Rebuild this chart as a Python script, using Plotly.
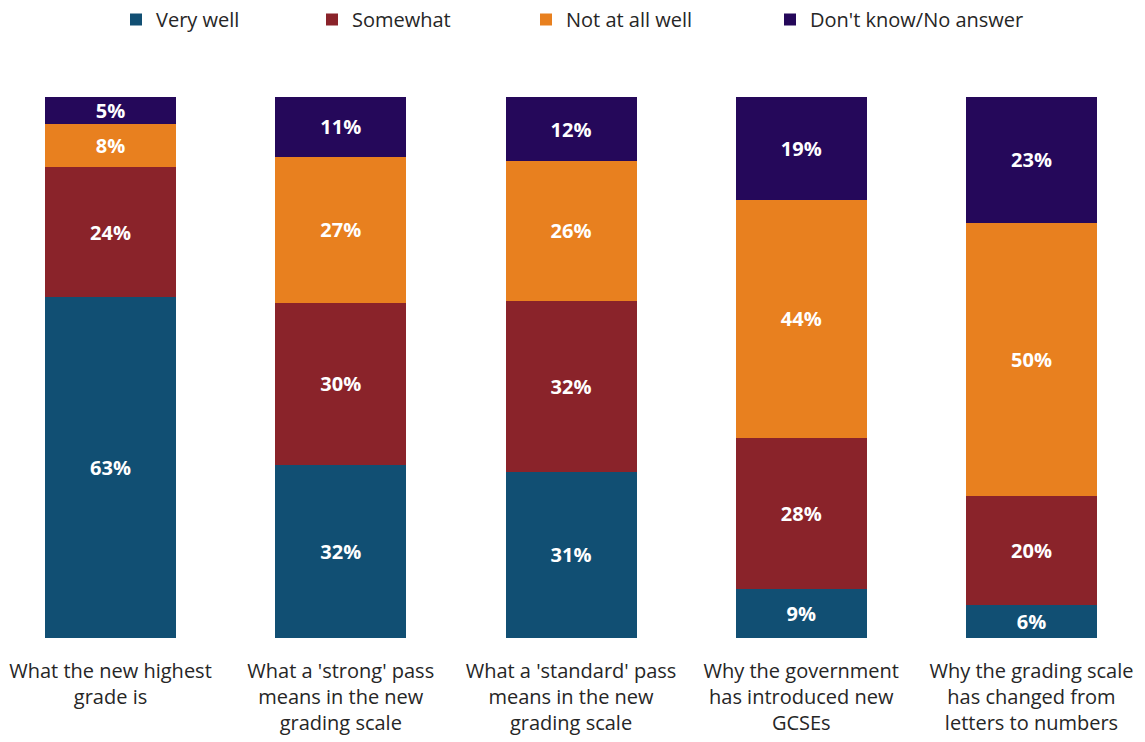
import plotly.graph_objects as go

categories = [
    "What the new highest<br>grade is",
    "What a 'strong' pass<br>means in the new<br>grading scale",
    "What a 'standard' pass<br>means in the new<br>grading scale",
    "Why the government<br>has introduced new<br>GCSEs",
    "Why the grading scale<br>has changed from<br>letters to numbers",
]
very_well = [63, 32, 31, 9, 6]
somewhat = [24, 30, 32, 28, 20]
not_at_all = [8, 27, 26, 44, 50]
dont_know = [5, 11, 12, 19, 23]

series = [
    ("Very well", very_well, "#114F73", "legend", 116),
    ("Somewhat", somewhat, "#8A232A", "legend2", 312),
    ("Not at all well", not_at_all, "#E8801F", "legend3", 526),
    ("Don't know/No answer", dont_know, "#25085A", "legend4", 770),
]

font_family = "Segoe UI, Open Sans, Noto Sans, sans-serif"
fig = go.Figure()
legends = {}
for name, vals, color, lg, xpx in series:
    fig.add_trace(go.Bar(
        name=name, x=categories, y=vals, marker=dict(color=color, line=dict(width=0)),
        text=[f"{v}%" for v in vals], textposition="inside", insidetextanchor="middle",
        constraintext="none",
        textfont=dict(family=font_family, size=20, color="white", weight="bold"),
        width=0.569, hoverinfo="skip", legend=lg,
    ))
    legends[lg] = dict(orientation="h", x=xpx / 1145, xanchor="left", xref="paper",
                       y=1.0, yanchor="top", yref="container",
                       font=dict(size=20, color="#262626"), bgcolor="rgba(0,0,0,0)")

fig.update_layout(
    barmode="stack", barnorm="percent",
    width=1145, height=742,
    margin=dict(l=0, r=0, t=97, b=104),
    paper_bgcolor="white", plot_bgcolor="white",
    font=dict(family=font_family, size=20, color="#262626"),
    xaxis=dict(range=[-0.48, 4.493], showline=False, ticks="", showgrid=False,
               ticklabelstandoff=19, tickfont=dict(size=20, color="#262626")),
    yaxis=dict(range=[0, 100], visible=False),
    showlegend=True,
    uniformtext=dict(minsize=20, mode="show"),
    **legends,
)
fig.write_html("out.html")
